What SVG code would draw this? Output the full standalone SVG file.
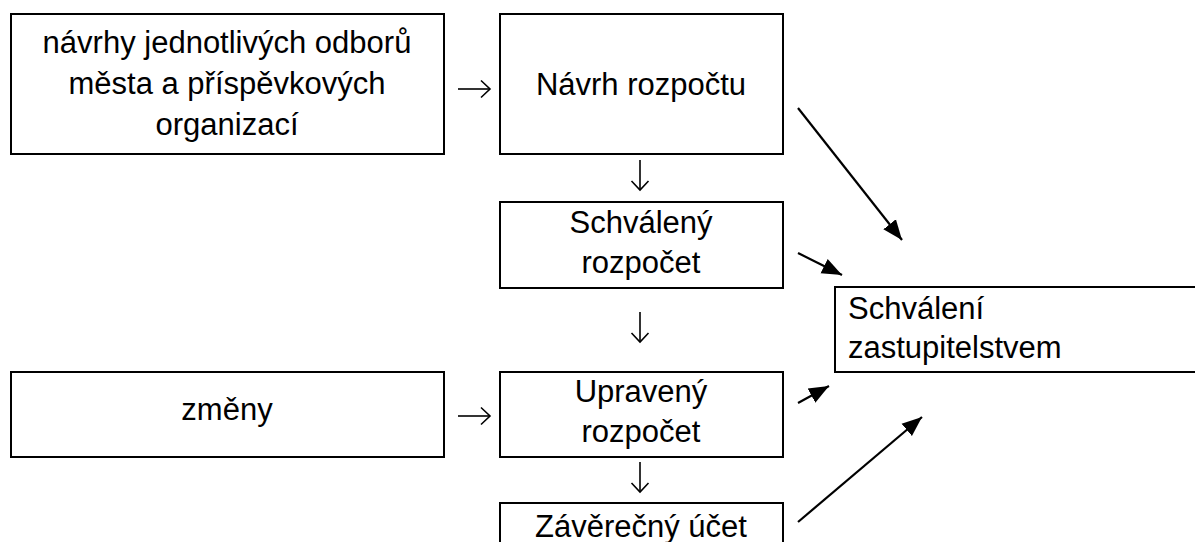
<svg xmlns="http://www.w3.org/2000/svg" width="1195" height="542" viewBox="0 0 1195 542">
<style>
.box{fill:#fff;stroke:#000;stroke-width:2}
.t{font-family:"Liberation Sans",Arial,sans-serif;font-size:31px;fill:#000;text-anchor:middle}
.tl{font-family:"Liberation Sans",Arial,sans-serif;font-size:31px;fill:#000}
.thin{stroke:#000;stroke-width:1.6;fill:none}
.thick{stroke:#000;stroke-width:2.2;fill:none}
</style>
<defs>
<marker id="open" markerUnits="userSpaceOnUse" markerWidth="20" markerHeight="20" refX="10" refY="10" orient="auto">
<path d="M1,1.5 L10,10 L1,18.5" fill="none" stroke="#000" stroke-width="1.6"/>
</marker>
<marker id="solid" markerUnits="userSpaceOnUse" markerWidth="26" markerHeight="26" refX="20" refY="13" orient="auto">
<path d="M0,5 L20,13 L0,21 Z" fill="#000"/>
</marker>
</defs>
<rect width="1195" height="542" fill="#fff"/>
<g id="n1">
<rect class="box" x="11" y="14" width="433" height="140"/>
<text class="t" x="227" y="53">návrhy jednotlivých odborů</text>
<text class="t" x="227" y="94">města a příspěvkových</text>
<text class="t" x="227" y="135">organizací</text>
</g>
<g id="n2">
<rect class="box" x="500" y="14" width="283" height="140"/>
<text class="t" x="641" y="95">Návrh rozpočtu</text>
</g>
<g id="n3">
<rect class="box" x="500" y="202" width="283" height="86"/>
<text class="t" x="641" y="233">Schválený</text>
<text class="t" x="641" y="273">rozpočet</text>
</g>
<g id="n4">
<rect class="box" x="11" y="372" width="433" height="85"/>
<text class="t" x="227" y="420">změny</text>
</g>
<g id="n5">
<rect class="box" x="500" y="372" width="283" height="85"/>
<text class="t" x="641" y="402">Upravený</text>
<text class="t" x="641" y="442">rozpočet</text>
</g>
<g id="n6">
<rect class="box" x="500" y="503" width="283" height="60"/>
<text class="t" x="641" y="537">Závěrečný účet</text>
</g>
<g id="n7">
<rect class="box" x="835" y="287" width="380" height="85"/>
<text class="tl" x="848" y="319">Schválení</text>
<text class="tl" x="848" y="358">zastupitelstvem</text>
</g>
<g id="connectors">
<line class="thin" x1="458" y1="89" x2="490" y2="89" marker-end="url(#open)"/>
<line class="thin" x1="458" y1="416" x2="490" y2="416" marker-end="url(#open)"/>
<line class="thin" x1="640" y1="160" x2="640" y2="190" marker-end="url(#open)"/>
<line class="thin" x1="640" y1="312" x2="640" y2="342" marker-end="url(#open)"/>
<line class="thin" x1="640" y1="462" x2="640" y2="492" marker-end="url(#open)"/>
<line class="thick" x1="798" y1="108" x2="902" y2="240" marker-end="url(#solid)"/>
<line class="thick" x1="798" y1="253" x2="842" y2="275" marker-end="url(#solid)"/>
<line class="thick" x1="798" y1="403" x2="829" y2="386" marker-end="url(#solid)"/>
<line class="thick" x1="798" y1="522" x2="922" y2="417" marker-end="url(#solid)"/>
</g>
</svg>
